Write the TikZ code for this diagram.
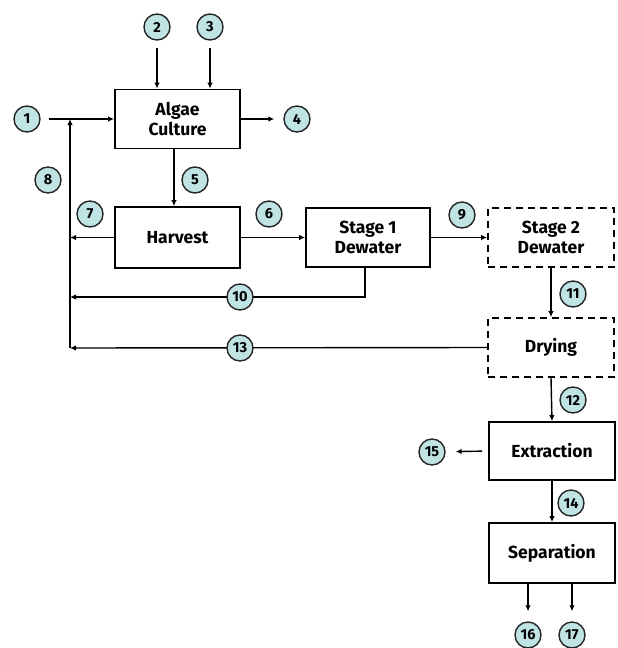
\documentclass[tikz,border=0pt]{standalone}
\usepackage{fontspec}
\setmainfont{Fira Sans}
\usetikzlibrary{arrows.meta}
\definecolor{numfill}{RGB}{192,228,228}
\begin{document}
\begin{tikzpicture}[x=1pt,y=-1pt,
  proc/.style={draw, line width=1.7pt, minimum width=125pt, minimum height=59pt,
    align=center, font=\bfseries\fontsize{17.5}{20}\selectfont, inner sep=0pt},
  dproc/.style={proc, dash pattern=on 7pt off 5pt},
  num/.style={circle, draw=black!85, line width=1.4pt, fill=numfill, minimum size=26pt,
    inner sep=0pt, font=\bfseries\fontsize{14.5}{14.5}\selectfont},
  flow/.style={line width=1.4pt, -{Latex[length=6pt,width=5.5pt]}},
]
\useasboundingbox (0,0) rectangle (618,648);

% process boxes
\node[proc] (algae) at (177.5,119) {Algae\\Culture};
\node[proc, minimum height=61pt] (harvest) at (177.5,237.5) {Harvest};
\node[proc, minimum width=124pt] (st1) at (368,237.5) {Stage 1\\Dewater};
\node[dproc, minimum width=126pt] (st2) at (551,237.5) {Stage 2\\Dewater};
\node[dproc, minimum width=126pt] (dry) at (551,347.5) {Drying};
\node[proc, minimum width=126pt, minimum height=58pt] (ext) at (552,451) {Extraction};
\node[proc, minimum width=126pt, minimum height=60pt] (sep) at (552,553) {Separation};

% stream number circles
\node[num] (c1) at (27,119) {1};
\node[num] (c2) at (157,27) {2};
\node[num] (c3) at (210,27) {3};
\node[num] (c4) at (297,119) {4};
\node[num] (c5) at (195,180) {5};
\node[num] (c6) at (269,214) {6};
\node[num] (c7) at (90,214) {7};
\node[num] (c8) at (48,180) {8};
\node[num] (c9) at (462,215) {9};
\node[num] (c11) at (573,294) {11};
\node[num] (c12) at (573,400) {12};
\node[num] (c14) at (571,503) {14};
\node[num] (c15) at (432,452) {15};
\node[num] (c16) at (528,635) {16};
\node[num] (c17) at (572,635) {17};

% junction coordinates on the recycle line
\coordinate (jtop) at (70,119);
\coordinate (jbot) at (70,348);

% feeds into algae culture
\draw[flow, shorten <=8pt] (c1) -- (algae.west);
\draw[flow, shorten <=7pt] (c2) -- (c2 |- algae.north);
\draw[flow, shorten <=7pt] (c3) -- (c3 |- algae.north);
\draw[flow, shorten >=9pt] (algae.east) -- (c4);

% main chain
\draw[flow] ([xshift=-3.5pt]algae.south) -- ([xshift=-3.5pt]harvest.north);
\draw[flow] (harvest.east) -- (st1.west);
\draw[flow] (st1.east) -- (st2.west);
\draw[flow] (st2.south) -- (dry.north);
\draw[flow] (dry.south) -- (ext.north);
\draw[flow] (ext.south) -- (sep.north);
\draw[flow, shorten <=6pt, shorten >=10pt] (ext.west) -- (c15);
\draw[flow, shorten >=10pt] (c16 |- sep.south) -- (c16);
\draw[flow, shorten >=10pt] (c17 |- sep.south) -- (c17);

% recycle lines
\draw[flow] (harvest.west) -- (harvest.west -| jtop);
\draw[flow] ([xshift=-3pt]st1.south) |- (jtop |- 0,297) coordinate (j10);
\draw[flow] (dry.west) -- (jbot);
\draw[flow] (jbot) -- (jtop);

% labels on the recycle lines
\node[num] (c10) at (240,297) {10};
\node[num] (c13) at (240,348) {13};
\end{tikzpicture}
\end{document}
